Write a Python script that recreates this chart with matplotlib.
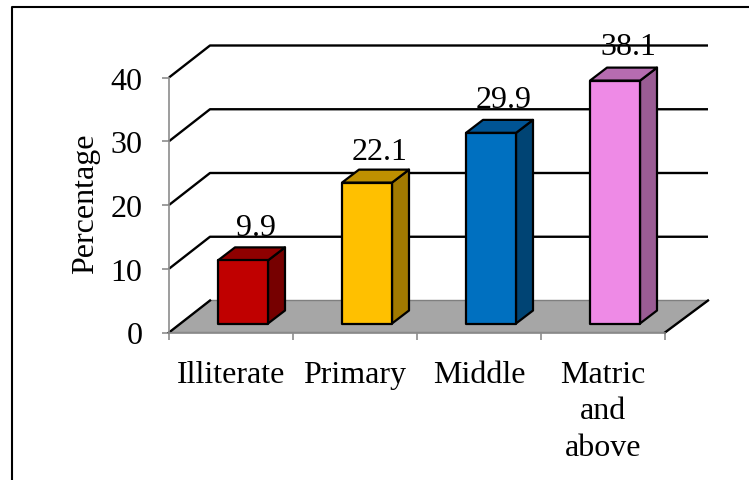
import matplotlib
matplotlib.use('Agg')
import matplotlib.pyplot as plt
from matplotlib.lines import Line2D
from matplotlib.patches import Polygon

plt.rcParams['font.family'] = ['Liberation Serif', 'DejaVu Serif']

categories = ['Illiterate', 'Primary', 'Middle', 'Matric\nand\nabove']
values = [9.9, 22.1, 29.9, 38.1]
y_ticks = [0, 10, 20, 30, 40]

front_colors = ['#C00000', '#FFC000', '#0070C0', '#EE8AE6']
top_colors = ['#8F0000', '#BF9000', '#005494', '#B66CB0']
side_colors = ['#760000', '#A27A00', '#004474', '#9A5C94']

W, H = 749, 481
FS = 23
fig = plt.figure(figsize=(W / 100, H / 100), dpi=100)
ax = fig.add_axes([169 / W, (H - 333.5) / H, (665 - 169) / W, 255 / H])
ax.set_xlim(0, 4)
ax.set_ylim(0, 40)

# depth of the floor and of the bars, in axis units
px_x = 4 / 496
px_y = 40 / 255
wall_dx, wall_dy = 41 * px_x, 32 * px_y
bar_dx, bar_dy = 17 * px_x, 13 * px_y
inset_dx, inset_dy = 12 * px_x, 9 * px_y
bar_w = 50 * px_x

# floor
floor_right = 4 + 43 * px_x
ax.add_patch(Polygon([(0, 0), (wall_dx, wall_dy), (floor_right, wall_dy), (4, 0)],
                     closed=True, fc='#A6A6A6', ec='#7F7F7F', lw=1, clip_on=False, zorder=1))
ax.plot([0, wall_dx], [0, wall_dy], color='black', lw=1.7, clip_on=False, zorder=2)
ax.plot([4, floor_right], [0, wall_dy], color='black', lw=1.7, clip_on=False, zorder=2)

# grid lines run along the back wall and down the left side
for t in y_ticks[1:]:
    ax.plot([0, wall_dx, floor_right], [t, t + wall_dy, t + wall_dy],
            color='black', lw=1.7, clip_on=False, zorder=2, solid_capstyle='butt')

# bars drawn as three faces
label_gap = [33, 31, 33, 34]
for i, v in enumerate(values):
    x0 = i + 0.5 - bar_w / 2 + inset_dx
    x1 = x0 + bar_w
    y0 = inset_dy
    y1 = y0 + v
    kw = dict(closed=True, ec='black', lw=1.6, joinstyle='round', clip_on=False, zorder=3)
    ax.add_patch(Polygon([(x1, y0), (x1 + bar_dx, y0 + bar_dy), (x1 + bar_dx, y1 + bar_dy), (x1, y1)],
                         fc=side_colors[i], **kw))
    ax.add_patch(Polygon([(x0, y1), (x0 + bar_dx, y1 + bar_dy), (x1 + bar_dx, y1 + bar_dy), (x1, y1)],
                         fc=top_colors[i], **kw))
    ax.add_patch(Polygon([(x0, y0), (x1, y0), (x1, y1), (x0, y1)],
                         fc=front_colors[i], **kw))
    ax.text(i + 0.5 + 25 * px_x, y1 + label_gap[i] * px_y, f'{v:.1f}', ha='center', va='center',
            fontsize=FS, color='black', zorder=4, clip_on=False)

# axes
for name in ['top', 'right']:
    ax.spines[name].set_visible(False)
for name in ['left', 'bottom']:
    ax.spines[name].set_color('#8C8C8C')
    ax.spines[name].set_linewidth(1.2)
    ax.spines[name].set_zorder(2.5)
ax.set_yticks(y_ticks)
ax.set_xticks(range(5))
ax.set_xticklabels([])
ax.tick_params(axis='both', color='#8C8C8C', width=1.2, length=5, labelsize=FS, labelcolor='black')
ax.tick_params(axis='y', pad=14)

# category names sit between the ticks, one baseline per line
for i, c in enumerate(categories):
    for j, line in enumerate(c.split('\n')):
        ax.text(i + 0.5, -(49.5 + 36.5 * j) * px_y, line, ha='center', va='baseline',
                fontsize=FS, clip_on=False)

ax.set_ylabel('Percentage', fontsize=FS)
ax.yaxis.set_label_coords((100 - 169) / 496, (332 - 202) / 255)

# outer frame, open at the bottom
frame = Line2D([11.5 / W, 11.5 / W, 1], [0, (H - 7.5) / H, (H - 7.5) / H], transform=fig.transFigure,
               color='black', lw=1.5)
fig.add_artist(frame)

fig.savefig('out.png', dpi=100)
